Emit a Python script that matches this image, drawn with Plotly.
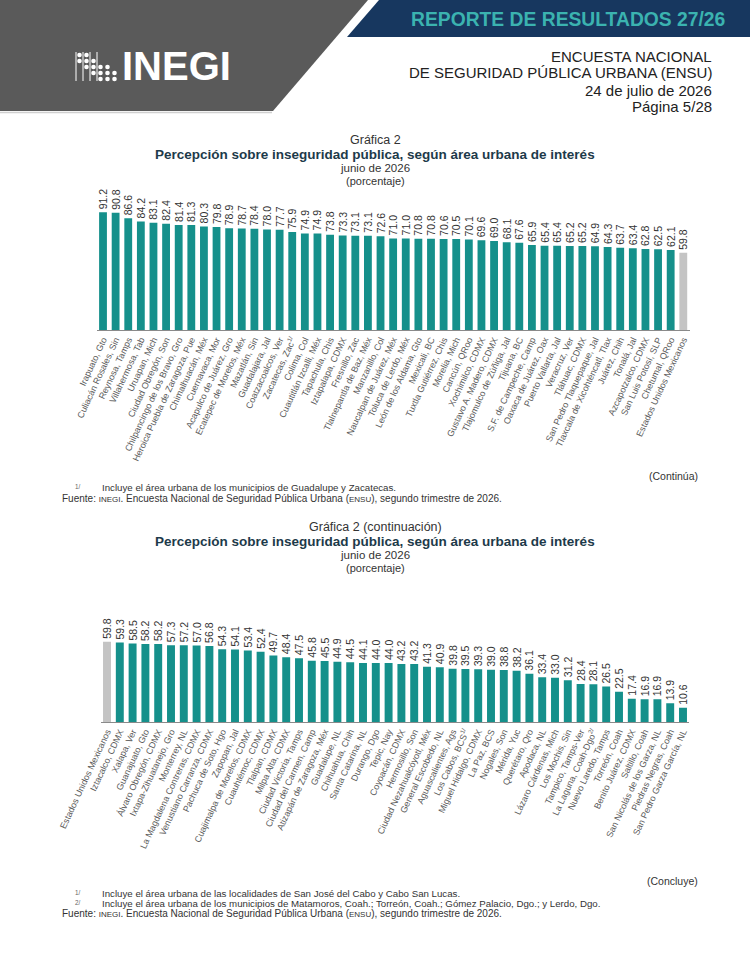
import plotly.graph_objects as go

W, H = 750, 967

# ---------------- data ----------------
cats1 = [
    "Irapuato, Gto", "Culiacán Rosales, Sin", "Reynosa, Tamps", "Villahermosa, Tab",
    "Uruapan, Mich", "Ciudad Obregón, Son", "Chilpancingo de los Bravo, Gro",
    "Heroica Puebla de Zaragoza, Pue", "Chimalhuacán, Méx", "Cuernavaca, Mor",
    "Acapulco de Juárez, Gro", "Ecatepec de Morelos, Méx", "Mazatlán, Sin",
    "Guadalajara, Jal", "Coatzacoalcos, Ver", "Zacatecas, Zac<sup>1/</sup>", "Colima, Col",
    "Cuautitlán Izcalli, Méx", "Tapachula, Chis", "Iztapalapa, CDMX", "Fresnillo, Zac",
    "Tlalnepantla de Baz, Méx", "Manzanillo, Col", "Naucalpan de Juárez, Méx",
    "Toluca de Lerdo, Méx", "León de los Aldama, Gto", "Mexicali, BC",
    "Tuxtla Gutiérrez, Chis", "Morelia, Mich", "Cancún, QRoo", "Xochimilco, CDMX",
    "Gustavo A. Madero, CDMX", "Tlajomulco de Zúñiga, Jal", "Tijuana, BC",
    "S.F. de Campeche, Camp", "Oaxaca de Juárez, Oax", "Puerto Vallarta, Jal",
    "Veracruz, Ver", "Tláhuac, CDMX", "San Pedro Tlaquepaque, Jal",
    "Tlaxcala de Xicohténcatl, Tlax", "Juárez, Chih", "Tonalá, Jal",
    "Azcapotzalco, CDMX", "San Luis Potosí, SLP", "Chetumal, QRoo",
    "Estados Unidos Mexicanos",
]
vals1 = [
    91.2, 90.8, 86.6, 84.2, 83.1, 82.4, 81.4, 81.3, 80.3, 79.8, 78.9, 78.7, 78.4,
    78.0, 77.7, 75.9, 74.9, 74.9, 73.8, 73.3, 73.1, 73.1, 72.6, 71.0, 71.0, 70.8,
    70.8, 70.6, 70.5, 70.1, 69.6, 69.0, 68.1, 67.6, 65.9, 65.4, 65.4, 65.2, 65.2,
    64.9, 64.3, 63.7, 63.4, 62.8, 62.5, 62.1, 59.8,
]

cats2 = [
    "Estados Unidos Mexicanos", "Iztacalco, CDMX", "Xalapa, Ver", "Guanajuato, Gto",
    "Álvaro Obregón, CDMX", "Ixtapa-Zihuatanejo, Gro", "Monterrey, NL",
    "La Magdalena Contreras, CDMX", "Venustiano Carranza, CDMX", "Pachuca de Soto, Hgo",
    "Zapopan, Jal", "Cuajimalpa de Morelos, CDMX", "Cuauhtémoc, CDMX", "Tlalpan, CDMX",
    "Milpa Alta, CDMX", "Ciudad Victoria, Tamps", "Ciudad del Carmen, Camp",
    "Atizapán de Zaragoza, Méx", "Guadalupe, NL", "Chihuahua, Chih", "Santa Catarina, NL",
    "Durango, Dgo", "Tepic, Nay", "Coyoacán, CDMX", "Hermosillo, Son",
    "Ciudad Nezahualcóyotl, Méx", "General Escobedo, NL", "Aguascalientes, Ags",
    "Los Cabos, BCS<sup>1/</sup>", "Miguel Hidalgo, CDMX", "La Paz, BCS", "Nogales, Son",
    "Mérida, Yuc", "Querétaro, Qro", "Apodaca, NL", "Lázaro Cárdenas, Mich",
    "Los Mochis, Sin", "Tampico, Tamps-Ver", "La Laguna, Coah-Dgo<sup>2/</sup>",
    "Nuevo Laredo, Tamps", "Torreón, Coah", "Benito Juárez, CDMX", "Saltillo, Coah",
    "San Nicolás de los Garza, NL", "Piedras Negras, Coah", "San Pedro Garza García, NL",
]
vals2 = [
    59.8, 59.3, 58.5, 58.2, 58.2, 57.3, 57.2, 57.0, 56.8, 54.3, 54.1, 53.4, 52.4,
    49.7, 48.4, 47.5, 45.8, 45.5, 44.9, 44.5, 44.1, 44.0, 44.0, 43.2, 43.2, 41.3,
    40.9, 39.8, 39.5, 39.3, 39.0, 38.8, 38.2, 36.1, 33.4, 33.0, 31.2, 28.4, 28.1,
    26.5, 22.5, 17.4, 16.9, 16.9, 13.9, 10.6,
]
national = "Estados Unidos Mexicanos"

# ---------------- style ----------------
TEAL = "#15908b"
GREY_BAR = "#c4c4c4"
NAVY = "#17375f"
HDR_GREY = "#5a5a5a"
TITLE_COL = "#1d3a4a"
TXT = "#333333"
ARIAL = "Liberation Sans, Arial, sans-serif"


def px(x):
    return x / W


def py(y):
    return 1 - y / H


def bar_colors(cats):
    return [GREY_BAR if c == national else TEAL for c in cats]


fig = go.Figure()
for cats, vals, xa, ya in [(cats1, vals1, "x", "y"), (cats2, vals2, "x2", "y2")]:
    fig.add_trace(go.Bar(
        x=cats, y=vals, marker=dict(color=bar_colors(cats), line=dict(width=0)),
        width=0.62, text=[f"{v:.1f}" for v in vals], textposition="outside",
        textangle=-90, constraintext="none", cliponaxis=False,
        textfont=dict(family=ARIAL, size=10.5, color=TXT),
        xaxis=xa, yaxis=ya, hoverinfo="skip", showlegend=False,
    ))

xcommon = dict(type="category", showline=True, linecolor="#8a8a8a", linewidth=1,
               ticks="", showgrid=False, zeroline=False, tickangle=-65,
               tickfont=dict(family=ARIAL, size=9, color="#5a5a5a"),
               automargin=False, fixedrange=True)
ycommon = dict(range=[0, 100], visible=False, showgrid=False, automargin=False,
               fixedrange=True)

fig.update_layout(
    width=W, height=H, margin=dict(l=0, r=0, t=0, b=0),
    paper_bgcolor="white", plot_bgcolor="white", bargap=0.35,
    xaxis=dict(domain=[px(96.7), px(689.6)], anchor="y", **xcommon),
    yaxis=dict(domain=[py(330), py(201)], anchor="x", **ycommon),
    xaxis2=dict(domain=[px(100.6), px(689.4)], anchor="y2", **xcommon),
    yaxis2=dict(domain=[py(722), py(588)], anchor="x2", **ycommon),
)

# ---------------- header shapes ----------------
shapes = []


def path(points, color):
    d = "M " + " L ".join(f"{px(x)},{py(y)}" for x, y in points) + " Z"
    return dict(type="path", path=d, xref="paper", yref="paper",
                fillcolor=color, line=dict(width=0), layer="above")


shapes.append(path([(0, 0), (368, 0), (273, 111), (0, 111)], HDR_GREY))
shapes.append(path([(379, 0), (750, 0), (750, 37), (347, 37)], NAVY))
shapes.append(dict(type="line", xref="paper", yref="paper", x0=0, x1=px(272),
                   y0=py(112.5), y1=py(112.5), line=dict(color="#d0d0d0", width=1.5)))

# INEGI logo mark (decorative)
for lx in [76, 83, 90, 97]:
    shapes.append(dict(type="line", xref="paper", yref="paper", x0=px(lx), x1=px(lx),
                       y0=py(52), y1=py(81), line=dict(color="white", width=1)))
dot_cols = [79.5, 86.5, 93.5, 100.5, 107.5, 114.5]
dot_rows = [55, 61, 67, 73, 79]
dot_pattern = [[0, 1], [0, 1, 2], [1, 2, 3], [2, 3, 4], [2, 3, 4], [3, 4]]
for cx, rows in zip(dot_cols, dot_pattern):
    for r in rows:
        cy = dot_rows[r]
        shapes.append(dict(type="circle", xref="paper", yref="paper",
                           x0=px(cx - 2.3), x1=px(cx + 2.3), y0=py(cy + 2.3), y1=py(cy - 2.3),
                           fillcolor="white", line=dict(width=0)))
fig.update_layout(shapes=shapes)

# ---------------- annotations ----------------
ann = []


def text(x, y, s, size, color=TXT, family=ARIAL, xanchor="center", bold=False):
    if bold:
        s = f"<b>{s}</b>"
    ann.append(dict(x=px(x), y=py(y), xref="paper", yref="paper", text=s,
                    showarrow=False, xanchor=xanchor, yanchor="middle",
                    font=dict(size=size, color=color, family=family)))


# header
text(728, 19, "REPORTE DE RESULTADOS 27/26", 19.3, color="#3bb3b0",
     xanchor="right", bold=True)
text(714, 57, "ENCUESTA NACIONAL", 15, color="#222222", xanchor="right")
text(714, 73, "DE SEGURIDAD PÚBLICA URBANA (ENSU)", 15, color="#222222", xanchor="right")
text(714, 90, "24 de julio de 2026", 15, color="#222222", xanchor="right")
text(714, 106, "Página 5/28", 15, color="#222222", xanchor="right")
text(120, 66, "INEGI", 40, color="white", xanchor="left", bold=True)

# chart 1 titles
text(375, 140, "Gráfica 2", 12.5)
text(375, 154, "Percepción sobre inseguridad pública, según área urbana de interés", 13.5,
     color=TITLE_COL, bold=True)
text(375, 168, "junio de 2026", 11.5)
text(375, 181, "(porcentaje)", 11)

# chart 1 notes
SMALL = "<span style='font-size:8px'>"
text(700, 476, "(Continúa)", 10.5, xanchor="right")
text(73, 486, "<sup>1/</sup>", 9, xanchor="left", color="#666")
text(100, 487, "Incluye el área urbana de los municipios de Guadalupe y Zacatecas.", 9.7,
     xanchor="left")
text(60, 498.5, f"Fuente: {SMALL}INEGI</span>. Encuesta Nacional de Seguridad Pública Urbana "
     f"({SMALL}ENSU</span>), segundo trimestre de 2026.", 10, xanchor="left")

# chart 2 titles
text(375, 527, "Gráfica 2 (continuación)", 12.5)
text(375, 541, "Percepción sobre inseguridad pública, según área urbana de interés", 13.5,
     color=TITLE_COL, bold=True)
text(375, 555, "junio de 2026", 11.5)
text(375, 568, "(porcentaje)", 11)

# chart 2 notes
text(700, 881, "(Concluye)", 10.5, xanchor="right")
text(73, 892, "<sup>1/</sup>", 9, xanchor="left", color="#666")
text(100, 893, "Incluye el área urbana de las localidades de San José del Cabo y Cabo San Lucas.",
     9.7, xanchor="left")
text(73, 902, "<sup>2/</sup>", 9, xanchor="left", color="#666")
text(100, 903, "Incluye el área urbana de los municipios de Matamoros, Coah.; Torreón, Coah.; "
     "Gómez Palacio, Dgo.; y Lerdo, Dgo.", 9.7, xanchor="left")
text(60, 913.5, f"Fuente: {SMALL}INEGI</span>. Encuesta Nacional de Seguridad Pública Urbana "
     f"({SMALL}ENSU</span>), segundo trimestre de 2026.", 10, xanchor="left")

fig.update_layout(annotations=ann)
fig.write_html("out.html")
